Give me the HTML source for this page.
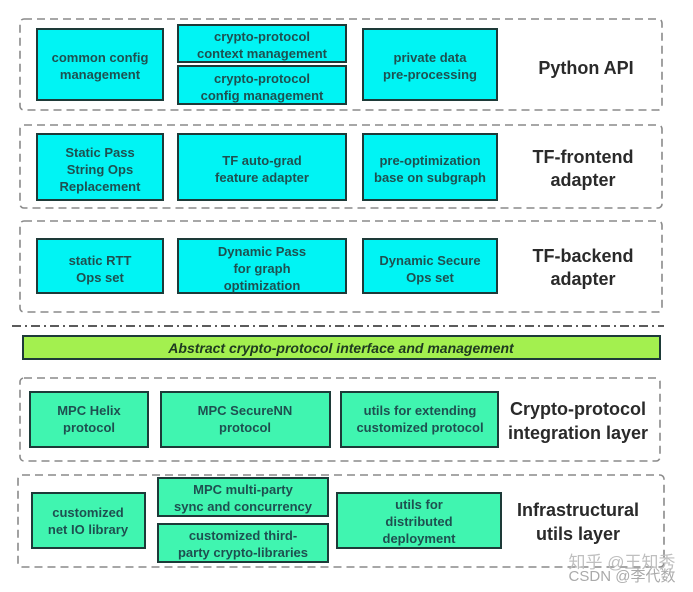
<!DOCTYPE html>
<html><head><meta charset="utf-8"><style>
html,body{margin:0;padding:0;background:#fff;width:693px;height:592px;overflow:hidden}
svg text{font-family:"Liberation Sans","Noto Sans CJK SC",sans-serif;font-weight:bold;text-anchor:middle}
.c{fill:#00f4f4;stroke:#1d3a38;stroke-width:2}
.g{fill:#40f5b0;stroke:#1d3a38;stroke-width:2}
.grp{fill:none;stroke:#8a8a8a;stroke-width:1.6;stroke-dasharray:8,5}
.t{fill:#1e5050;font-size:13px}
.L{fill:#2a2a2a;font-size:18px}
</style></head><body>
<svg width="693" height="592" viewBox="0 0 693 592" xmlns="http://www.w3.org/2000/svg">
<!-- groups -->
<rect class="grp" x="20" y="19" width="642" height="91" rx="4"/>
<rect class="grp" x="20" y="125" width="642" height="83" rx="4"/>
<rect class="grp" x="20" y="221" width="642" height="91" rx="4"/>
<rect class="grp" x="20" y="378" width="640" height="83" rx="4"/>
<rect class="grp" x="18" y="475" width="646" height="92" rx="4"/>
<line x1="12" y1="326" x2="664" y2="326" stroke="#444" stroke-width="1.8" stroke-dasharray="9,4,2,4"/>
<!-- Python API -->
<rect class="c" x="37" y="29" width="126" height="71"/>
<text class="t" x="100" y="62">common config</text><text class="t" x="100" y="79">management</text>
<rect class="c" x="178" y="25" width="168" height="37"/>
<text class="t" x="262" y="41">crypto-protocol</text><text class="t" x="262" y="58">context management</text>
<rect class="c" x="178" y="66" width="168" height="38"/>
<text class="t" x="262" y="83">crypto-protocol</text><text class="t" x="262" y="100">config management</text>
<rect class="c" x="363" y="29" width="134" height="71"/>
<text class="t" x="430" y="62">private data</text><text class="t" x="430" y="79">pre-processing</text>
<text class="L" x="586" y="74">Python API</text>
<!-- TF-frontend -->
<rect class="c" x="37" y="134" width="126" height="66"/>
<text class="t" x="100" y="157">Static Pass</text><text class="t" x="100" y="174">String Ops</text><text class="t" x="100" y="191">Replacement</text>
<rect class="c" x="178" y="134" width="168" height="66"/>
<text class="t" x="262" y="165">TF auto-grad</text><text class="t" x="262" y="182">feature adapter</text>
<rect class="c" x="363" y="134" width="134" height="66"/>
<text class="t" x="430" y="165">pre-optimization</text><text class="t" x="430" y="182">base on subgraph</text>
<text class="L" x="583" y="163">TF-frontend</text><text class="L" x="583" y="186">adapter</text>
<!-- TF-backend -->
<rect class="c" x="37" y="239" width="126" height="54"/>
<text class="t" x="100" y="265">static RTT</text><text class="t" x="100" y="282">Ops set</text>
<rect class="c" x="178" y="239" width="168" height="54"/>
<text class="t" x="262" y="256">Dynamic Pass</text><text class="t" x="262" y="273">for graph</text><text class="t" x="262" y="290">optimization</text>
<rect class="c" x="363" y="239" width="134" height="54"/>
<text class="t" x="430" y="265">Dynamic Secure</text><text class="t" x="430" y="282">Ops set</text>
<text class="L" x="583" y="262">TF-backend</text><text class="L" x="583" y="285">adapter</text>
<!-- bar -->
<rect x="23" y="336" width="637" height="23" fill="#a3f04f" stroke="#1d3a38" stroke-width="2"/>
<text x="341" y="353" style="font-style:italic;font-size:14px;fill:#1e3a20">Abstract crypto-protocol interface and management</text>
<!-- crypto layer -->
<rect class="g" x="30" y="392" width="118" height="55"/>
<text class="t" x="89" y="415">MPC Helix</text><text class="t" x="89" y="432">protocol</text>
<rect class="g" x="161" y="392" width="169" height="55"/>
<text class="t" x="245" y="415">MPC SecureNN</text><text class="t" x="245" y="432">protocol</text>
<rect class="g" x="341" y="392" width="157" height="55"/>
<text class="t" x="420" y="415">utils for extending</text><text class="t" x="420" y="432">customized protocol</text>
<text class="L" x="578" y="415">Crypto-protocol</text><text class="L" x="578" y="439">integration layer</text>
<!-- infra -->
<rect class="g" x="32" y="493" width="113" height="55"/>
<text class="t" x="88" y="517">customized</text><text class="t" x="88" y="534">net IO library</text>
<rect class="g" x="158" y="478" width="170" height="38"/>
<text class="t" x="243" y="494">MPC multi-party</text><text class="t" x="243" y="511">sync and concurrency</text>
<rect class="g" x="158" y="524" width="170" height="38"/>
<text class="t" x="243" y="540">customized third-</text><text class="t" x="243" y="557">party crypto-libraries</text>
<rect class="g" x="337" y="493" width="164" height="55"/>
<text class="t" x="419" y="509">utils for</text><text class="t" x="419" y="526">distributed</text><text class="t" x="419" y="543">deployment</text>
<text class="L" x="578" y="516">Infrastructural</text><text class="L" x="578" y="540">utils layer</text>
<!-- watermark -->
<text x="622" y="568" style="font-weight:normal;font-size:17px;fill:#bfbfbf">知乎 @王知秀</text>
<text x="622" y="581" style="font-weight:normal;font-size:15px;fill:#aaaaaa">CSDN @李代数</text>
</svg>
</body></html>
